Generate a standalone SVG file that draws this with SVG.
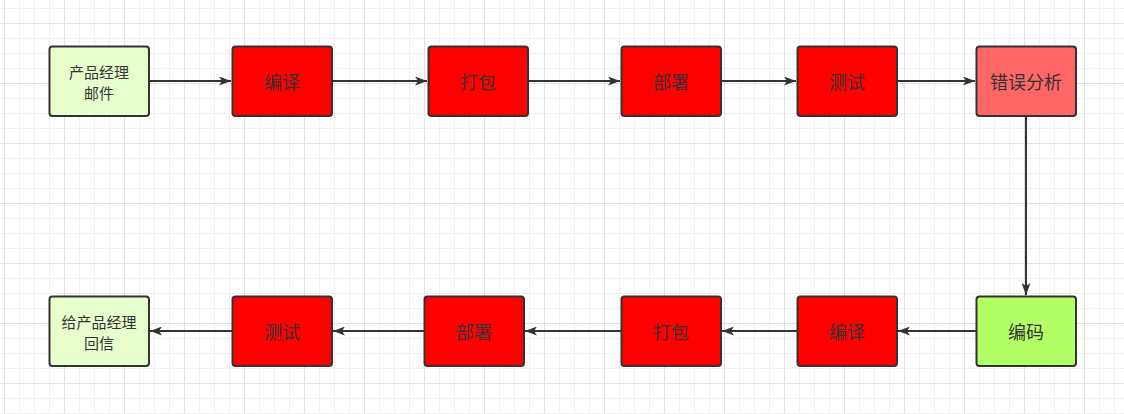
<svg xmlns="http://www.w3.org/2000/svg" width="1124" height="414" viewBox="0 0 1124 414">
  <style>
    .box { stroke: #333333; stroke-width: 2; }
    .green { fill: #E6FFCC; }
    .red { fill: #FF0000; }
    .pink { fill: #FF6666; }
    .lime { fill: #B3FF66; }
    .lbl { font-family: "Noto Sans CJK SC", "Noto Sans", sans-serif; fill: #333333; text-anchor: middle; dominant-baseline: central; }
    .big { font-size: 18px; }
    .small { font-size: 15px; }
    .edge { stroke: #333333; stroke-width: 2; fill: none; marker-end: url(#arrow); }
  </style>
  <defs>
    <pattern id="minor" x="4" y="8" width="15" height="15" patternUnits="userSpaceOnUse">
      <path d="M0.5 0 V15 M0 0.5 H15" stroke="#f0f0f0" stroke-width="1" fill="none"/>
    </pattern>
    <pattern id="major" x="4" y="23" width="60" height="60" patternUnits="userSpaceOnUse">
      <path d="M0.5 0 V60 M0 0.5 H60" stroke="#e2e2e2" stroke-width="1" fill="none"/>
    </pattern>
    <marker id="arrow" viewBox="0 0 12 9" refX="12" refY="4.5" markerWidth="12" markerHeight="9" markerUnits="userSpaceOnUse" orient="auto">
      <path d="M0 0 L12 4.5 L0 9 L3 4.5 Z" fill="#333333"/>
    </marker>
  </defs>
  <rect width="1124" height="414" fill="#ffffff"/>
  <rect width="1124" height="414" fill="url(#minor)"/>
  <rect width="1124" height="414" fill="url(#major)"/>

  <g id="connectors">
    <path class="edge" d="M149 81 H231"/>
    <path class="edge" d="M332 81 H427"/>
    <path class="edge" d="M528 81 H620"/>
    <path class="edge" d="M721 81 H796"/>
    <path class="edge" d="M897 81 H975"/>
    <path class="edge" d="M1026 116 V295"/>
    <path class="edge" d="M976 331 H898"/>
    <path class="edge" d="M797 331 H722"/>
    <path class="edge" d="M621 331 H525"/>
    <path class="edge" d="M424 331 H333"/>
    <path class="edge" d="M232 331 H150"/>
  </g>

  <g id="n1">
    <rect class="box green" x="49.5" y="46.5" width="99.5" height="69.5" rx="3"/>
    <text class="lbl small" x="99" y="71"><tspan x="99">产品经理</tspan><tspan x="99" dy="21">邮件</tspan></text>
  </g>
  <g id="n2">
    <rect class="box red" x="232.5" y="46.5" width="99.5" height="69.5" rx="3"/>
    <text class="lbl big" x="282" y="81">编译</text>
  </g>
  <g id="n3">
    <rect class="box red" x="428.5" y="46.5" width="99.5" height="69.5" rx="3"/>
    <text class="lbl big" x="478" y="81">打包</text>
  </g>
  <g id="n4">
    <rect class="box red" x="621.5" y="46.5" width="99.5" height="69.5" rx="3"/>
    <text class="lbl big" x="671" y="81">部署</text>
  </g>
  <g id="n5">
    <rect class="box red" x="797.5" y="46.5" width="99.5" height="69.5" rx="3"/>
    <text class="lbl big" x="847" y="81">测试</text>
  </g>
  <g id="n6">
    <rect class="box pink" x="976.5" y="46.5" width="99.5" height="69.5" rx="3"/>
    <text class="lbl big" x="1026" y="81">错误分析</text>
  </g>

  <g id="n7">
    <rect class="box lime" x="976.5" y="296.5" width="99.5" height="69.5" rx="3"/>
    <text class="lbl big" x="1026" y="331">编码</text>
  </g>
  <g id="n8">
    <rect class="box red" x="797.5" y="296.5" width="99.5" height="69.5" rx="3"/>
    <text class="lbl big" x="847" y="331">编译</text>
  </g>
  <g id="n9">
    <rect class="box red" x="621.5" y="296.5" width="99.5" height="69.5" rx="3"/>
    <text class="lbl big" x="671" y="331">打包</text>
  </g>
  <g id="n10">
    <rect class="box red" x="424.5" y="296.5" width="99.5" height="69.5" rx="3"/>
    <text class="lbl big" x="474" y="331">部署</text>
  </g>
  <g id="n11">
    <rect class="box red" x="232.5" y="296.5" width="99.5" height="69.5" rx="3"/>
    <text class="lbl big" x="282" y="331">测试</text>
  </g>
  <g id="n12">
    <rect class="box green" x="49.5" y="296.5" width="99.5" height="69.5" rx="3"/>
    <text class="lbl small" x="99" y="321"><tspan x="99">给产品经理</tspan><tspan x="99" dy="21">回信</tspan></text>
  </g>
</svg>
